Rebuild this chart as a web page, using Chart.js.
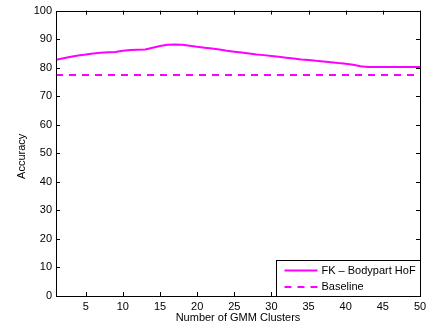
<!DOCTYPE html>
<html>
<head>
<meta charset="utf-8">
<script src="https://cdn.jsdelivr.net/npm/chart.js@4/dist/chart.umd.min.js"></script>
<style>
  html, body { margin: 0; padding: 0; background: #fff; }
  #wrap { width: 438px; height: 326px; }
</style>
</head>
<body>
<div id="wrap"><canvas id="accChart"></canvas></div>
<script>
// Data
const clusters = Array.from({ length: 50 }, (_, i) => i + 1);
const bodypartHoF = [
  82.8, 83.3, 83.8, 84.3, 84.6, 85.0, 85.2, 85.4, 85.5, 85.9,
  86.2, 86.3, 86.4, 87.0, 87.6, 88.0, 88.1, 88.0, 87.7, 87.3,
  87.0, 86.7, 86.4, 85.9, 85.6, 85.3, 85.0, 84.6, 84.4, 84.1,
  83.8, 83.5, 83.2, 82.9, 82.7, 82.4, 82.2, 81.9, 81.6, 81.4,
  81.0, 80.5, 80.2, 80.2, 80.2, 80.2, 80.2, 80.2, 80.2, 80.2
];
const baseline = clusters.map(() => 77.4);
const xTicks = [5, 10, 15, 20, 25, 30, 35, 40, 45, 50];
const yTicks = [0, 10, 20, 30, 40, 50, 60, 70, 80, 90, 100];
const seriesLabels = ['FK \u2013 Bodypart HoF', 'Baseline'];
const xTitle = 'Number of GMM Clusters';
const yTitle = 'Accuracy';

const FONT = 'Liberation Sans, Arial, Helvetica, sans-serif';
const MAGENTA = '#ff00ff';

// MATLAB style box with inward ticks, axis titles and legend
const boxPlugin = {
  id: 'box',
  afterDatasetsDraw(chart) {
    const { ctx, chartArea: a, scales: { x, y } } = chart;
    const len = 4;
    ctx.save();
    ctx.strokeStyle = '#000';
    ctx.lineWidth = 1;
    ctx.beginPath();
    xTicks.forEach(v => {
      const px = Math.round(x.getPixelForValue(v)) + 0.5;
      ctx.moveTo(px, a.bottom); ctx.lineTo(px, a.bottom - len);
      ctx.moveTo(px, a.top); ctx.lineTo(px, a.top + len);
    });
    yTicks.forEach(v => {
      const py = Math.round(y.getPixelForValue(v)) + 0.5;
      ctx.moveTo(a.left, py); ctx.lineTo(a.left + len, py);
      ctx.moveTo(a.right, py); ctx.lineTo(a.right - len, py);
    });
    ctx.stroke();
    ctx.strokeRect(Math.round(a.left) + 0.5, Math.round(a.top) + 0.5,
      Math.round(a.right - a.left), Math.round(a.bottom - a.top));

    // axis titles
    ctx.fillStyle = '#000';
    ctx.font = '11px ' + FONT;
    ctx.textAlign = 'center';
    ctx.textBaseline = 'middle';
    ctx.fillText(xTitle, (a.left + a.right) / 2, a.bottom + 22);
    ctx.save();
    ctx.translate(22, (a.top + a.bottom) / 2 + 3);
    ctx.rotate(-Math.PI / 2);
    ctx.fillText(yTitle, 0, 0);
    ctx.restore();

    // legend box in lower right corner
    const w = 144, h = 36;
    const lx = Math.round(a.right) - w + 0.5, ly = Math.round(a.bottom) - h + 0.5;
    ctx.fillStyle = '#fff';
    ctx.fillRect(lx, ly, w, h);
    ctx.strokeRect(lx, ly, w, h);
    ctx.textAlign = 'left';
    ctx.font = '11px ' + FONT;
    chart.data.datasets.forEach((ds, i) => {
      const cy = ly + 10 + i * 16.5;
      ctx.strokeStyle = ds.borderColor;
      ctx.lineWidth = ds.borderWidth;
      ctx.setLineDash(ds.borderDash || []);
      ctx.beginPath();
      ctx.moveTo(lx + 8, cy); ctx.lineTo(lx + 41, cy);
      ctx.stroke();
      ctx.setLineDash([]);
      ctx.fillStyle = '#000';
      ctx.fillText(ds.label, lx + 45, cy);
    });
    ctx.restore();
  }
};

new Chart(document.getElementById('accChart'), {
  type: 'line',
  data: {
    labels: clusters,
    datasets: [
      {
        label: seriesLabels[0],
        data: bodypartHoF,
        borderColor: MAGENTA,
        borderWidth: 2,
        pointRadius: 0,
        tension: 0
      },
      {
        label: seriesLabels[1],
        data: baseline,
        borderColor: MAGENTA,
        borderWidth: 2,
        borderDash: [7, 6],
        pointRadius: 0
      }
    ]
  },
  options: {
    responsive: true,
    maintainAspectRatio: false,
    animation: false,
    layout: { padding: { top: 9, right: 18, left: 0, bottom: 0 } },
    plugins: {
      legend: { display: false },
      tooltip: { enabled: false }
    },
    scales: {
      x: {
        type: 'linear',
        min: 1,
        max: 50,
        afterBuildTicks: s => { s.ticks = xTicks.map(v => ({ value: v })); },
        afterFit: s => { s.height = 30; },
        grid: { display: false, drawTicks: false },
        border: { display: false },
        ticks: { color: '#000', font: { family: FONT, size: 11 }, padding: 4, maxRotation: 0 }
      },
      y: {
        min: 0,
        max: 100,
        afterBuildTicks: s => { s.ticks = yTicks.map(v => ({ value: v })); },
        afterFit: s => { s.width = 56; },
        grid: { display: false, drawTicks: false },
        border: { display: false },
        ticks: { color: '#000', font: { family: FONT, size: 11 }, padding: 4 }
      }
    }
  },
  plugins: [boxPlugin]
});
</script>
</body>
</html>
